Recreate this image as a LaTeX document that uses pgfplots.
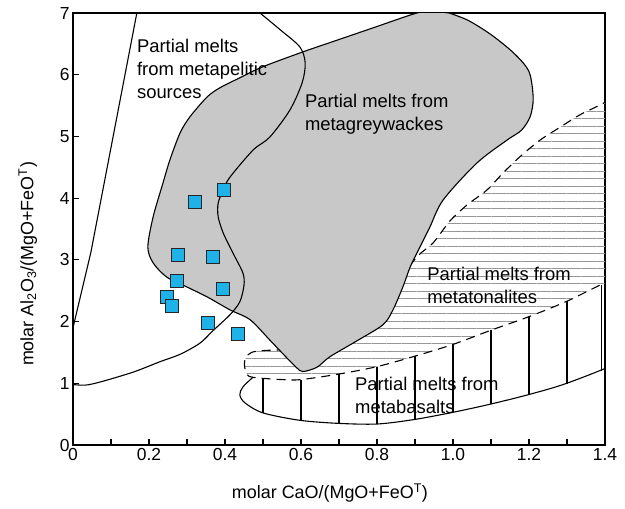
\documentclass[border=0pt]{standalone}
\usepackage{pgfplots}
\pgfplotsset{compat=1.18}
\usepackage{fontspec}
\setmainfont{Liberation Sans}
\usetikzlibrary{patterns.meta}
\definecolor{greyfill}{RGB}{200,200,200}
\definecolor{sqfill}{RGB}{30,178,232}
\definecolor{hatch}{RGB}{150,150,150}
\begin{document}
\begin{tikzpicture}
\path[use as bounding box] (-73bp,-64bp) rectangle (552bp,445bp);
\begin{axis}[
 at={(0,0)}, anchor=south west,
 scale only axis, width=532bp, height=432bp,
 xmin=0, xmax=1.4, ymin=0, ymax=7,
 xtick={0,0.2,0.4,0.6,0.8,1.0,1.2,1.4},
 xticklabels={0,0.2,0.4,0.6,0.8,1.0,1.2,1.4},
 minor xtick={0.1,0.3,0.5,0.7,0.9,1.1,1.3},
 ytick={0,1,2,3,4,5,6,7},
 yticklabels={0,1,2,3,4,5,6,7},
 xtick pos=bottom, ytick pos=left, tick align=inside,
 major tick length=6bp, minor tick length=6bp,
 tick style={line width=1.2bp, black},
 axis line style={line width=1.4bp},
 ticklabel style={font=\fontsize{17.5}{20}\selectfont},
 label style={font=\fontsize{18}{22}\selectfont},
 xlabel={molar CaO/(MgO+FeO\textsuperscript{T})},
 ylabel={molar Al\textsubscript{2}O\textsubscript{3}/(MgO+FeO\textsuperscript{T})},
 xlabel style={at={(axis description cs:0.483,-0.112)},anchor=center},
 ylabel style={at={(axis description cs:-0.085,0.419)},anchor=center},
]
% metatonalites: horizontal hatch fill
\addplot[draw=none, smooth, pattern={Lines[angle=0,distance=7.5bp,line width=1bp]}, pattern color=hatch]
 coordinates {(1.45,5.72) (1.387,5.51) (1.334,5.35) (1.282,5.15) (1.229,4.94) (1.176,4.67) (1.132,4.41) (1.089,4.13) (1.037,3.89) (0.992,3.63) (0.947,3.27) (0.905,3.05) (0.85,2.6) (0.78,2.1) (0.68,1.7) (0.58,1.56) (0.5,1.53) (0.47,1.50) (0.455,1.42) (0.451,1.30) (0.456,1.18) (0.47,1.10) (0.55,1.06) (0.6,1.06) (0.7,1.15) (0.8,1.27) (0.9,1.44) (1.0,1.63) (1.1,1.86) (1.2,2.08) (1.3,2.33) (1.39,2.60) (1.45,2.75) (1.5,4.2)} -- cycle;
% metatonalites dashed boundary
\addplot[smooth, black, line width=1.1bp, dash pattern=on 9bp off 6bp]
 coordinates {(1.45,5.72) (1.387,5.51) (1.334,5.35) (1.282,5.15) (1.229,4.94) (1.176,4.67) (1.132,4.41) (1.089,4.13) (1.037,3.89) (0.992,3.63) (0.947,3.27) (0.905,3.05) (0.85,2.6) (0.78,2.1) (0.68,1.7) (0.58,1.56) (0.5,1.53) (0.47,1.50) (0.455,1.42) (0.451,1.30) (0.456,1.18) (0.47,1.10) (0.55,1.06) (0.6,1.06) (0.7,1.15) (0.8,1.27) (0.9,1.44) (1.0,1.63) (1.1,1.86) (1.2,2.08) (1.3,2.33) (1.39,2.60) (1.45,2.75)};
% metabasalts vertical hatch
\addplot[black, line width=1.1bp] coordinates {(0.5,0.52) (0.5,1.08)};
\addplot[black, line width=1.1bp] coordinates {(0.6,0.40) (0.6,1.06)};
\addplot[black, line width=1.1bp] coordinates {(0.7,0.35) (0.7,1.15)};
\addplot[black, line width=1.1bp] coordinates {(0.8,0.34) (0.8,1.27)};
\addplot[black, line width=1.1bp] coordinates {(0.9,0.41) (0.9,1.44)};
\addplot[black, line width=1.1bp] coordinates {(1.0,0.53) (1.0,1.63)};
\addplot[black, line width=1.1bp] coordinates {(1.1,0.66) (1.1,1.86)};
\addplot[black, line width=1.1bp] coordinates {(1.2,0.82) (1.2,2.08)};
\addplot[black, line width=1.1bp] coordinates {(1.3,0.99) (1.3,2.33)};
\addplot[black, line width=1.1bp] coordinates {(1.39,1.20) (1.39,2.60)};
% metabasalts lower solid boundary
\addplot[smooth, black, line width=1.1bp]
 coordinates {(0.474,1.10) (0.447,0.94) (0.439,0.81) (0.453,0.68) (0.5,0.52) (0.597,0.40) (0.7,0.35) (0.8,0.34) (0.895,0.41) (0.992,0.52) (1.09,0.65) (1.195,0.81) (1.29,0.98) (1.4,1.24) (1.45,1.40)};
% metagreywackes grey field
\addplot[smooth, fill=greyfill, draw=black, line width=1.1bp]
 coordinates {(0.95,7.03) (0.905,7.0) (0.79,6.76) (0.676,6.52) (0.605,6.37) (0.5,6.13) (0.439,5.95) (0.387,5.79) (0.353,5.64) (0.308,5.32) (0.282,5.06) (0.255,4.62) (0.237,4.25) (0.211,3.70) (0.197,3.21) (0.211,2.95) (0.247,2.72) (0.3,2.56) (0.353,2.40) (0.413,2.19) (0.466,2.03) (0.518,1.70) (0.563,1.41) (0.589,1.25) (0.605,1.19) (0.642,1.26) (0.676,1.43) (0.745,1.68) (0.816,1.95) (0.842,2.19) (0.868,2.56) (0.887,2.88) (0.905,3.11) (0.939,3.53) (0.974,3.97) (1.063,4.57) (1.142,4.94) (1.18,5.1) (1.203,5.32) (1.211,5.62) (1.2,6.05) (1.16,6.35) (1.1,6.65) (1.04,6.88) (0.99,7.0)} -- cycle;
% metapelitic boundary curve
\addplot[smooth, black, line width=1.1bp]
 coordinates {(0,0.98) (0.032,0.97) (0.071,1.02) (0.158,1.18) (0.229,1.35) (0.282,1.47) (0.334,1.65) (0.368,1.85) (0.413,2.11) (0.439,2.32) (0.45,2.59) (0.447,2.79) (0.421,3.11) (0.395,3.44) (0.382,3.70) (0.382,3.92) (0.395,4.13) (0.413,4.34) (0.474,4.78) (0.518,4.99) (0.571,5.43) (0.603,5.87) (0.611,6.19) (0.597,6.45) (0.545,6.73) (0.492,7.0) (0.47,7.1)};
% metapelitic left straight line
\addplot[black, line width=1.1bp] coordinates {(0.168,7.0) (0.047,3.12) (0.0,1.9)};
% samples
\addplot[only marks, mark=square*, mark size=6.3bp, mark options={fill=sqfill, draw=black!85, line width=1bp}]
 coordinates {(0.321,3.94) (0.397,4.13) (0.276,3.08) (0.368,3.05) (0.274,2.66) (0.395,2.53) (0.247,2.40) (0.26,2.25) (0.355,1.98) (0.434,1.80)};
% labels
\node[anchor=west, align=left, inner sep=0, font=\fontsize{18.5}{23}\selectfont] at (axis cs:0.168,6.09) {Partial melts\\from metapelitic\\sources};
\node[anchor=west, align=left, inner sep=0, font=\fontsize{18.5}{23}\selectfont] at (axis cs:0.61,5.36) {Partial melts from\\metagreywackes};
\node[anchor=west, align=left, inner sep=0, font=\fontsize{18.5}{23}\selectfont] at (axis cs:0.932,2.59) {Partial melts from\\metatonalites};
\node[anchor=west, align=left, inner sep=0, font=\fontsize{18.5}{23}\selectfont] at (axis cs:0.742,0.81) {Partial melts from\\metabasalts};
\end{axis}
\end{tikzpicture}
\end{document}
